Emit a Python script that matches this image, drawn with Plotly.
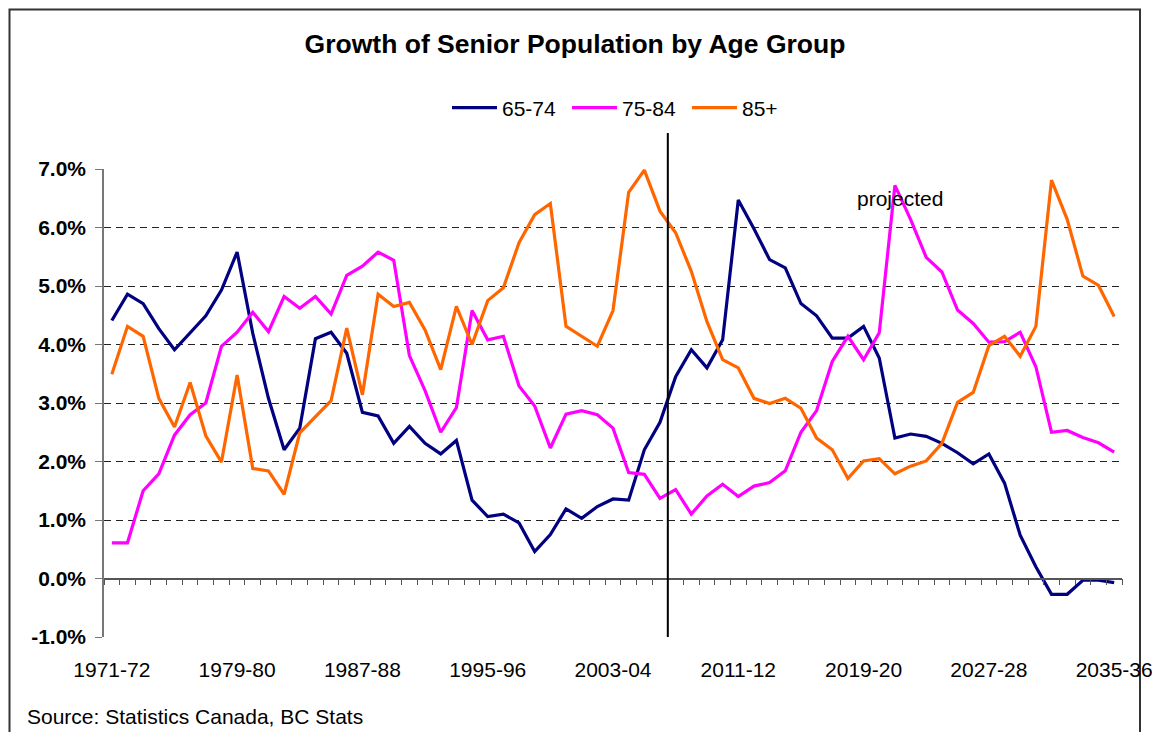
import plotly.graph_objects as go

# ---- data ----
years = [f"{y}-{(y + 1) % 100:02d}" for y in range(1971, 2036)]
tick_labels = years[::8]

age_65_74 = [4.41, 4.86, 4.70, 4.27, 3.91, 4.21, 4.49, 4.93, 5.58, 4.19, 3.08, 2.20, 2.57, 4.10, 4.21, 3.85, 2.84,
             2.78, 2.31, 2.60, 2.31, 2.13, 2.36, 1.34, 1.06, 1.10, 0.95, 0.46, 0.75, 1.19, 1.03, 1.23, 1.36, 1.34,
             2.20, 2.67, 3.45, 3.91, 3.60, 4.08, 6.47, 5.98, 5.45, 5.31, 4.70, 4.49, 4.11, 4.11, 4.31, 3.77,
             2.40, 2.47, 2.43, 2.31, 2.15, 1.96, 2.13, 1.63, 0.74, 0.20, -0.27, -0.27, -0.03, -0.03, -0.07]
age_75_84 = [0.61, 0.61, 1.50, 1.79, 2.45, 2.80, 3.00, 3.97, 4.21, 4.55, 4.22, 4.82, 4.62, 4.82, 4.52, 5.18, 5.34,
             5.58, 5.44, 3.81, 3.21, 2.50, 2.92, 4.58, 4.08, 4.14, 3.29, 2.95, 2.23, 2.81, 2.87, 2.80, 2.57, 1.81,
             1.78, 1.37, 1.52, 1.10, 1.41, 1.61, 1.40, 1.58, 1.64, 1.84, 2.50, 2.87, 3.71, 4.14, 3.74, 4.20,
             6.72, 6.14, 5.49, 5.24, 4.59, 4.36, 4.04, 4.05, 4.21, 3.62, 2.50, 2.53, 2.41, 2.32, 2.16]
age_85_plus = [3.49, 4.31, 4.14, 3.08, 2.59, 3.35, 2.44, 1.99, 3.48, 1.88, 1.84, 1.44, 2.49, 2.77, 3.04, 4.28, 3.14,
               4.86, 4.65, 4.72, 4.25, 3.57, 4.65, 4.00, 4.75, 4.97, 5.74, 6.22, 6.41, 4.31, 4.14, 3.97, 4.58, 6.60,
               6.98, 6.28, 5.91, 5.25, 4.39, 3.74, 3.60, 3.08, 2.99, 3.08, 2.91, 2.40, 2.20, 1.71, 2.01, 2.05,
               1.79, 1.92, 2.01, 2.31, 3.01, 3.18, 3.98, 4.14, 3.80, 4.31, 6.81, 6.14, 5.17, 5.01, 4.48]

y_ticks = [-1, 0, 1, 2, 3, 4, 5, 6, 7]
y_tick_labels = [f"{v:.1f}%" for v in y_ticks]

series = [("65-74", age_65_74, "#000080"),
          ("75-84", age_75_84, "#FF00FF"),
          ("85+", age_85_plus, "#FF6600")]

FONT = "Liberation Sans, Arial, sans-serif"
idx = list(range(len(years)))
label_pos = idx[::8]

# the page body adds an 8px offset; margins compensate for it
OFF = 8
ML, MR, MT = 104 - OFF, 38 + OFF, 169 - OFF
MB = 732 - (636.7 - OFF)
PW, PH = 1018, 467.7  # plot area size in px


def px_x(x):  # screen x -> paper
    return (x - 104) / PW


def px_y(y):  # screen y -> paper
    return (636.7 - y) / PH


fig = go.Figure()
for name, vals, color in series:
    fig.add_trace(go.Scatter(x=idx, y=vals, name=name, mode="lines",
                             line=dict(color=color, width=3.2),
                             customdata=years,
                             hovertemplate="%{customdata}: %{y:.1f}%<extra>" + name + "</extra>"))

# invisible trace to carry the zero-line category axis (tick marks between categories)
fig.add_trace(go.Scatter(x=idx, y=age_65_74, xaxis="x2", yaxis="y", mode="lines",
                         opacity=0, showlegend=False, hoverinfo="skip"))

fig.update_layout(
    width=1160, height=732,
    margin=dict(l=ML, r=MR, t=MT, b=MB),
    paper_bgcolor="white", plot_bgcolor="white",
    font=dict(family=FONT, size=21, color="black"),
    title=dict(text="<b>Growth of Senior Population by Age Group</b>",
               x=(575 - OFF) / 1160, xanchor="center", y=1 - (44 - OFF) / 732, yanchor="middle",
               font=dict(family=FONT, size=26.5, color="black")),
    showlegend=True,
    legend=dict(orientation="h", x=px_x(447), xanchor="left", y=px_y(108), yanchor="middle",
                font=dict(family=FONT, size=21), bgcolor="rgba(0,0,0,0)",
                entrywidth=60, entrywidthmode="pixels", itemwidth=45),
    xaxis=dict(range=[-0.5, len(years) - 0.5], tickmode="array", tickvals=label_pos,
               ticktext=tick_labels, ticks="outside", ticklen=14, tickcolor="rgba(0,0,0,0)",
               showline=False, showgrid=False, zeroline=False,
               tickfont=dict(family=FONT, size=21, color="black")),
    xaxis2=dict(overlaying="x", anchor="free", position=0.125, side="bottom",
                range=[-0.5, len(years) - 0.5], tickmode="linear", tick0=-0.5, dtick=1,
                ticks="outside", ticklen=6, tickcolor="#555555", tickwidth=1,
                showline=True, linecolor="#555555", linewidth=1.5,
                showticklabels=False, showgrid=False, zeroline=False),
    yaxis=dict(range=[-1, 7], tickmode="array", tickvals=y_ticks, ticktext=y_tick_labels,
               showgrid=True, gridcolor="#222222", gridwidth=1, griddash="7px,5px",
               zeroline=False, showline=True, linecolor="#777777", linewidth=1.5,
               ticks="outside", ticklen=7, tickcolor="#777777", ticklabelstandoff=5,
               tickfont=dict(family=FONT, size=21, color="black", weight="bold")),
    shapes=[
        # boundary between actual and projected data
        dict(type="line", xref="x", yref="paper", x0=35.5, x1=35.5, y0=0, y1=px_y(133),
             line=dict(color="black", width=2)),
        # outer chart frame
        dict(type="rect", xref="paper", yref="paper",
             x0=px_x(9.5), x1=px_x(1140),
             y0=px_y(745), y1=px_y(9.5),
             line=dict(color="#333333", width=2), fillcolor="rgba(0,0,0,0)", layer="below"),
    ],
    annotations=[
        dict(text="projected", x=50.3, y=6.5, xref="x", yref="y", showarrow=False,
             xanchor="center", yanchor="middle", font=dict(family=FONT, size=21, color="black")),
        dict(text="Source: Statistics Canada, BC Stats", xref="paper", yref="paper",
             x=px_x(25), y=px_y(716), xanchor="left", yanchor="middle",
             showarrow=False, font=dict(family=FONT, size=21, color="black")),
    ],
)

fig.write_html("out.html")
